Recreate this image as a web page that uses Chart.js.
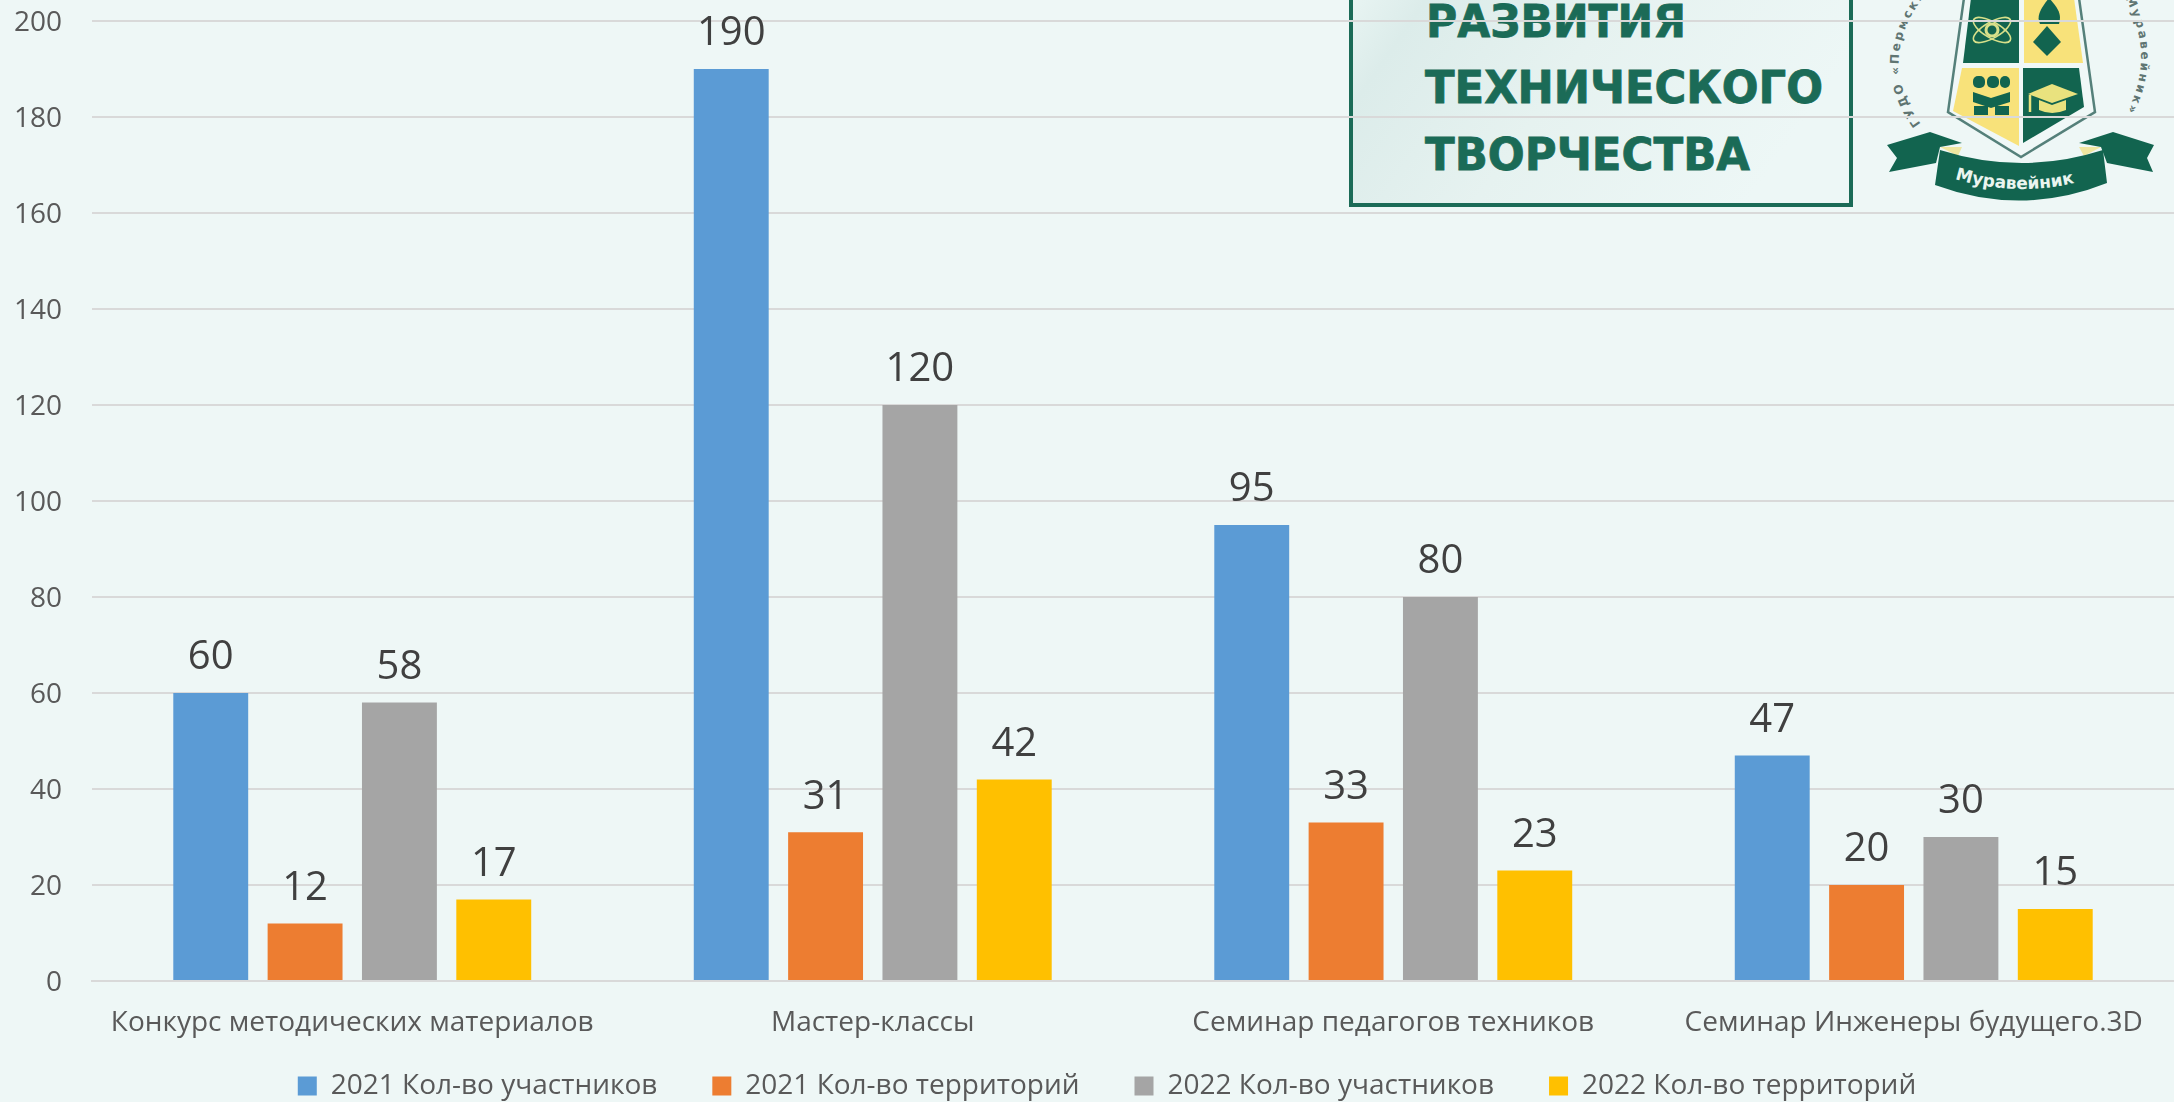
<!DOCTYPE html>
<html><head><meta charset="utf-8">
<style>
html,body{margin:0;padding:0;background:#EEF7F6;overflow:hidden;width:2174px;height:1102px}
#logo{position:absolute;left:0;top:0;width:2174px;height:1102px}
#wrap{position:absolute;left:0;top:0;width:2174px;height:1110px}
</style>
<script src="https://cdn.jsdelivr.net/npm/chart.js@4"></script>
</head><body>
<svg id="logo" viewBox="0 0 2174 1102" xmlns="http://www.w3.org/2000/svg">
<defs><linearGradient id="g" x1="0" x2="1" y1="0" y2="0.3"><stop offset="0" stop-color="#E9F5F3"/><stop offset="0.15" stop-color="#DCECEA"/><stop offset="0.5" stop-color="#E6F2F0"/><stop offset="1" stop-color="#EDF7F6"/></linearGradient>
<path id="arcL" d="M1921 124 Q1875 61 1924 -4"/>
<path id="arcR" d="M2124 -4 Q2160 61 2120 124"/>
<path id="arcB" d="M1952 178 Q2022 200 2093 178"/></defs>
<rect x="1351" y="-10" width="500" height="215" fill="url(#g)" stroke="#1B6B57" stroke-width="4"/>
<g font-family="'DejaVu Sans'" font-weight="700" fill="#1B6B57" stroke="#1B6B57" stroke-width="0.8" font-size="44">
<text x="1426" y="37" textLength="260" lengthAdjust="spacingAndGlyphs">РАЗВИТИЯ</text>
<text x="1425" y="103" textLength="398" lengthAdjust="spacingAndGlyphs">ТЕХНИЧЕСКОГО</text>
<text x="1425" y="170" textLength="325" lengthAdjust="spacingAndGlyphs">ТВОРЧЕСТВА</text>
</g>
<polygon points="1964,-2 1948,112 2021,157 2095,112 2079,-2" fill="#F0F8F7" stroke="#55807A" stroke-width="2.5"/>
<polygon points="1971,-2 2019,-2 2019,63 1963,63" fill="#12644F"/>
<polygon points="2024,-2 2074,-2 2083,63 2024,63" fill="#F8E27A"/>
<polygon points="1962,68 2019,68 2019,146 1953,111" fill="#F8E27A"/>
<polygon points="2023,68 2079,68 2084,107 2023,143" fill="#12644F"/>
<g fill="none" stroke="#D8E08A" stroke-width="1.6">
<ellipse cx="1992" cy="30" rx="21" ry="8" transform="rotate(30 1992 30)"/>
<ellipse cx="1992" cy="30" rx="21" ry="8" transform="rotate(-30 1992 30)"/>
<circle cx="1992" cy="30" r="6" stroke-width="3"/>
</g>
<g fill="#12644F">
<path d="M2049 -2 C2058 8 2062 14 2059 24 L2040 24 C2036 16 2041 8 2049 -2Z"/>
<polygon points="2047,26 2061,42 2047,56 2033,42"/>
<rect x="1973" y="76" width="12" height="12" rx="5"/><rect x="1987" y="76" width="12" height="12" rx="5"/><rect x="2000" y="76" width="10" height="12" rx="5"/>
<path d="M1973 92 L1991 98 L2010 92 L2010 102 L1991 108 L1973 102Z"/>
<rect x="1974" y="106" width="14" height="9"/><rect x="1995" y="106" width="14" height="9"/>
</g>
<polygon points="2028,94 2052,84 2078,94 2052,103" fill="#E9E27E"/>
<path d="M2039 100 L2039 110 Q2052 116 2066 110 L2066 100 L2052 105Z" fill="#E9E27E"/>
<path d="M2030 95 L2030 112" stroke="#E9E27E" stroke-width="2.5"/>
<polygon points="1940,147 1962,147 1958,156" fill="#EFE6A0"/>
<polygon points="2101,147 2079,147 2084,156" fill="#EFE6A0"/>
<g fill="#12644F">
<polygon points="1887,145 1930,132 1962,143 1940,147 1936,163 1889,172 1897,158"/>
<polygon points="2079,143 2113,132 2154,145 2147,158 2153,172 2107,163 2101,147"/>
<path d="M1940 150 Q2022 176 2103 150 L2107 183 Q2022 217 1935 185Z"/>
</g>
<text font-family="'DejaVu Sans'" font-weight="700" font-size="17" fill="#EAF5EF"><textPath href="#arcB" startOffset="3">Муравейник</textPath></text>
<g font-family="'DejaVu Sans'" font-weight="700" font-size="12" fill="#5F7572" letter-spacing="2.5">
<text><textPath href="#arcL">ГУДО «Пермский</textPath></text>
<text><textPath href="#arcR" startOffset="2">Муравейник»</textPath></text>
</g>
</svg>
<div id="wrap"><canvas id="c" width="2174" height="1110"></canvas></div>
<script>
const categories=["Конкурс методических материалов","Мастер-классы","Семинар педагогов техников","Семинар Инженеры будущего.3D"];
const seriesNames=["2021 Кол-во участников","2021 Кол-во территорий","2022 Кол-во участников","2022 Кол-во территорий"];
const participants2021=[60,190,95,47];
const territories2021=[12,31,33,20];
const participants2022=[58,120,80,30];
const territories2022=[17,42,23,15];
const seriesColors=["#5B9BD5","#ED7D31","#A5A5A5","#FFC000"];
const FONT="'Open Sans'";
const labels={id:'labels',
afterLayout(ch){ch.legend.left+=20;ch.legend.right+=20;ch.scales.x.bottom=ch.height;},
afterDatasetsDraw(ch){const c=ch.ctx;c.save();c.font="40px "+FONT;c.fillStyle="#404040";c.textAlign="center";c.textBaseline="bottom";
ch.data.datasets.forEach((d,i)=>{ch.getDatasetMeta(i).data.forEach((b,j)=>{c.fillText(d.data[j],b.x,b.y-15)})});c.restore();}};
new Chart(document.getElementById('c'),{type:'bar',
data:{labels:categories,datasets:[participants2021,territories2021,participants2022,territories2022].map((v,i)=>({label:seriesNames[i],data:v,backgroundColor:seriesColors[i],categoryPercentage:0.725,barPercentage:0.794}))},
plugins:[labels],
options:{responsive:false,animation:false,
layout:{padding:{left:0,right:0,top:21,bottom:0}},
plugins:{legend:{position:'bottom',labels:{boxWidth:19,boxHeight:19,font:{family:FONT,size:28},color:'#595959',padding:55}},tooltip:{enabled:false}},
scales:{x:{afterFit(s){s.height=36;s.paddingLeft=0;s.paddingRight=0},grid:{display:false},border:{color:'#D9D9D9',width:2},ticks:{font:{family:FONT,size:28},color:'#595959',maxRotation:0,padding:17}},
y:{min:0,max:200,afterFit(s){s.width=92;s.paddingTop=0;s.paddingBottom=0},grid:{color:'#D9D9D9',lineWidth:2,drawTicks:false},border:{display:false},ticks:{stepSize:20,labelOffset:2,font:{family:FONT,size:28},color:'#595959',padding:30}}}}});
</script>
</body></html>
